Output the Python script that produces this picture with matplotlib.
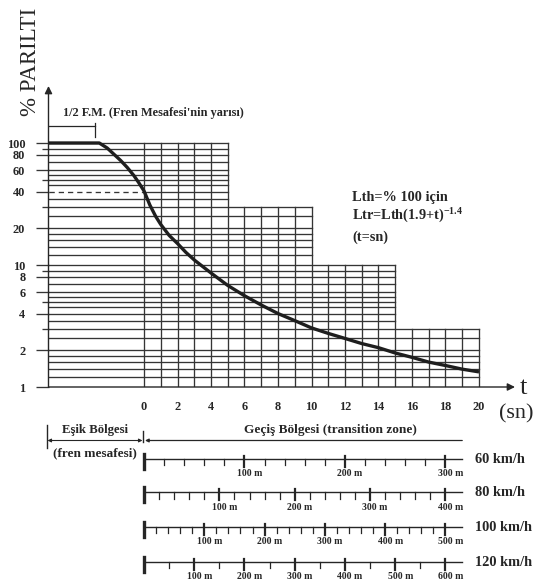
import matplotlib
matplotlib.use("Agg")
import matplotlib.pyplot as plt
from matplotlib.ticker import NullFormatter

plt.rcParams.update({
    "font.family": ["Liberation Serif", "DejaVu Serif"],
    "font.weight": "bold",
    "mathtext.fontset": "custom",
    "mathtext.rm": "Liberation Serif:bold",
    "mathtext.default": "rm",
})

# ============================================================
# Data
# ============================================================
# luminance curve, % of threshold luminance vs time t (s)
curve_t = [-5.7, -2.67, -2.2, -1.8, -1.4, -1.0, -0.6, -0.3, 0, 0.35, 0.7, 1, 1.5,
           2, 2.5, 3, 4, 5, 6, 7, 8, 9, 10, 11, 12, 13, 14, 15, 16, 17, 18, 19, 20]
curve_v = [100, 100, 91, 81, 72, 63, 54, 47, 40.5, 31, 25, 21.5, 17.5,
           15, 12.7, 11, 8.6, 6.8, 5.6, 4.7, 4.0, 3.5, 3.05, 2.75, 2.5, 2.27, 2.1,
           1.9, 1.75, 1.6, 1.5, 1.4, 1.33]

# grid paper: horizontal rulings and the stepped blocks
grid_values = [1, 1.2, 1.4, 1.6, 1.8, 2, 2.5, 3, 3.5, 4, 4.5, 5, 5.5, 6, 7, 8, 9,
               10, 12, 14, 16, 18, 20, 25, 30, 35, 40, 45, 50, 55, 60, 70, 80, 90, 100]
block_ends = [5, 10, 15, 20]
block_tops = [100, 30, 10, 3]
grid_times = list(range(0, 21))

y_labels = [100, 80, 60, 40, 20, 10, 8, 6, 4, 2, 1]
y_mid_ticks = [90, 50, 30, 9, 5, 3]
x_labels = list(range(0, 21, 2))
dashed_value = 40

# distance scales under the time axis
speeds = [60, 80, 100, 120]            # km/h
minor_step = [20, 20, 20, 50]          # m
max_dist = [300, 400, 500, 600]        # m
major_step = 100                       # m
scale_end = 19                         # s

# ============================================================
# Layout (pixels of the 534x585 picture)
# ============================================================
W, H = 534, 585
X0, PX_PER_S = 144, 16.75              # t=0 position, px per second
AX_L, AX_R, AX_T, AX_B = 48.5, 520, 80, 387
PX_PER_DEC = 122

def tpos(px):
    return (px - X0) / PX_PER_S

def vpos(py):
    return 10 ** ((AX_B - py) / PX_PER_DEC)

def ftext(x, y, s, **kw):
    fig.text(x / W, 1 - y / H, s, **kw)

ink = "#262626"
gcol = "#353535"

fig = plt.figure(figsize=(W / 100, H / 100), dpi=100)
fig.patch.set_facecolor("white")

ax = fig.add_axes([AX_L / W, 1 - AX_B / H, (AX_R - AX_L) / W, (AX_B - AX_T) / H])
ax.set_yscale("log")
ax.set_xlim(tpos(AX_L), tpos(AX_R))
ax.set_ylim(1, vpos(AX_T))
for s in ax.spines.values():
    s.set_visible(False)
ax.patch.set_alpha(0)
t_left = tpos(AX_L)

# ---- grid paper
def block_top(t):
    for e, top in zip(block_ends, block_tops):
        if t <= e:
            return top
    return block_tops[-1]

def block_end(v):
    end = block_ends[0]
    for e, top in zip(block_ends, block_tops):
        if v <= top:
            end = e
    return end

for v in grid_values:
    if v == dashed_value:
        ax.plot([t_left, 0], [v, v], color=gcol, lw=0.95, ls=(0, (4, 3)))
        ax.plot([0, block_end(v)], [v, v], color=gcol, lw=0.95)
    elif v > 1:
        ax.plot([t_left, block_end(v)], [v, v], color=gcol, lw=0.95)

for t in grid_times:
    ax.plot([t, t], [1, block_top(t)], color=gcol, lw=0.95)

# ---- axes with arrows
ax.annotate("", xy=(tpos(515), 1), xytext=(t_left, 1), annotation_clip=False,
            arrowprops=dict(arrowstyle="-|>", lw=1.0, color=ink,
                            mutation_scale=11, shrinkA=0, shrinkB=0))
ax.annotate("", xy=(t_left, vpos(86)), xytext=(t_left, 1), annotation_clip=False,
            arrowprops=dict(arrowstyle="-|>", lw=1.0, color=ink,
                            mutation_scale=11, shrinkA=0, shrinkB=0))

# ---- ticks and labels
ax.set_yticks(y_labels, [str(v) for v in y_labels])
ax.set_yticks(y_mid_ticks, minor=True)
ax.yaxis.set_minor_formatter(NullFormatter())
ax.tick_params(axis="y", which="major", length=9.7, width=0.95, color=gcol,
               pad=7, labelsize=8.8, labelcolor=ink)
ax.tick_params(axis="y", which="minor", length=4.8, width=0.95, color=gcol)
ax.set_xticks(x_labels, [str(v) for v in x_labels])
ax.tick_params(axis="x", length=0, pad=10, labelsize=8.8, labelcolor=ink)

# ---- curve
ax.plot(curve_t, curve_v, color="#1e1e1e", lw=2.4, solid_capstyle="butt", zorder=5)

# ---- half braking distance bracket
ax.plot([t_left, tpos(95)], [vpos(126), vpos(126)], color=ink, lw=0.9, clip_on=False)
ax.plot([tpos(95), tpos(95)], [vpos(123), vpos(137)], color=ink, lw=0.9, clip_on=False)

# ---- texts around the chart
ftext(30.5, 62, "% PARILTI", rotation=90, ha="center", va="center",
      fontsize=16.5, fontweight="normal", color=ink)
ftext(63, 113, "1/2 F.M. (Fren Mesafesi'nin yarısı)", ha="left", va="center",
      fontsize=8.8, color=ink)
ftext(352, 197, "Lth=% 100 için", ha="left", va="center", fontsize=10.3, color=ink)
ftext(352, 216, "Ltr=Lth(1.9+t)$^{-1.4}$", ha="left", va="center", fontsize=10.3, color=ink)
ftext(352, 237, "(t=sn)", ha="left", va="center", fontsize=10.3, color=ink)
ftext(523, 388, "t", ha="center", va="center", fontsize=19, fontweight="normal", color=ink)
ftext(516, 414, "(sn)", ha="center", va="center", fontsize=16, fontweight="normal", color=ink)

# ============================================================
# Distance scales
# ============================================================
bx = fig.add_axes([AX_L / W, 0, (AX_R - AX_L) / W, (H - 395) / H])
bx.set_xlim(tpos(AX_L), tpos(AX_R))
bx.set_ylim(H, 395)
bx.axis("off")

# threshold / transition zone markers
y_zone = 440.5
bx.plot([tpos(47), tpos(47)], [425, 448], color=ink, lw=1.0, clip_on=False)
bx.annotate("", xy=(tpos(47.5), y_zone), xytext=(tpos(142.5), y_zone),
            annotation_clip=False,
            arrowprops=dict(arrowstyle="<|-|>", lw=0.8, color=ink,
                            mutation_scale=5, shrinkA=0, shrinkB=0))
bx.plot([tpos(143), tpos(143)], [431, 442], color=ink, lw=1.0, clip_on=False)
bx.annotate("", xy=(tpos(145), y_zone), xytext=(scale_end, y_zone),
            annotation_clip=False,
            arrowprops=dict(arrowstyle="-|>", lw=0.9, color=ink,
                            mutation_scale=5, shrinkA=0, shrinkB=0))
ftext(95, 430, "Eşik Bölgesi", ha="center", va="center", fontsize=9.2, color=ink)
ftext(95, 453, "(fren mesafesi)", ha="center", va="center", fontsize=9.5, color=ink)
ftext(330, 430, "Geçiş Bölgesi (transition zone)", ha="center", va="center",
      fontsize=9.6, color=ink)

scale_y = [458.5, 492, 526.5, 561.5]
for v, step, dmax, yl in zip(speeds, minor_step, max_dist, scale_y):
    ms = v / 3.6
    bx.plot([0, scale_end], [yl, yl], color=ink, lw=1.0)
    bx.plot([0, 0], [yl - 5, yl + 10], color=ink, lw=2.4)
    for d in range(step, dmax + 1, step):
        tt = d / ms
        if d % major_step == 0:
            bx.plot([tt, tt], [yl - 3, yl + 8], color=ink, lw=1.6)
            bx.text(tt + 0.3, yl + 15, f"{d} m", ha="center", va="center",
                    fontsize=7, color=ink)
        else:
            bx.plot([tt, tt], [yl, yl + 6.5], color=ink, lw=0.9)
    ftext(475, yl + 1, f"{v} km/h", ha="left", va="center", fontsize=10.4, color=ink)

fig.savefig("out.png", dpi=100, facecolor="white")
